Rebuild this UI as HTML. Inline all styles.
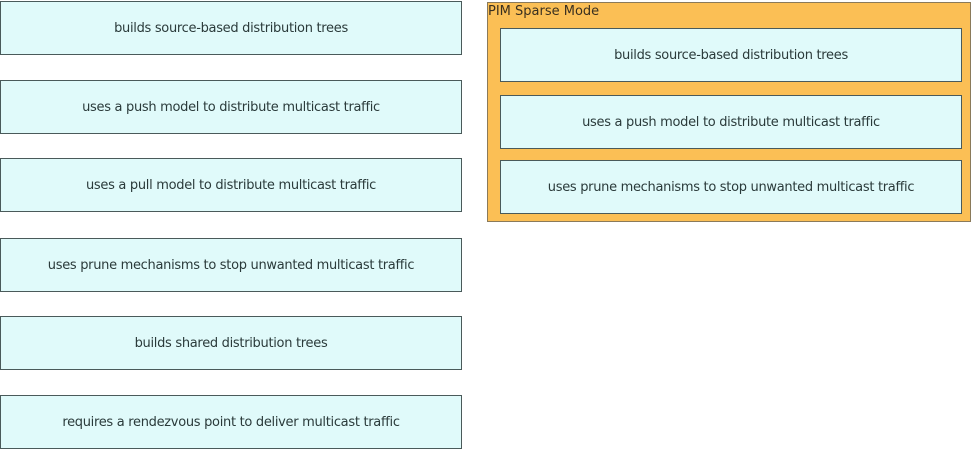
<!DOCTYPE html>
<html><head><style>
body{margin:0;width:973px;height:450px;background:#fff;position:relative;overflow:hidden;font-family:"DejaVu Sans","Liberation Sans",sans-serif;}
.b{position:absolute;box-sizing:border-box;background:#e0fafa;border:1px solid #4a5a5a;display:flex;align-items:center;justify-content:center;font-size:13px;color:#2a3a3a;letter-spacing:-0.3px;}
.o{position:absolute;left:487px;top:2px;width:484px;height:220px;box-sizing:border-box;background:#fbbf55;border:1px solid #8a7a5a;}
.t{position:absolute;left:488px;top:4px;font-size:13px;color:#3a3020;}
</style></head><body>
<div class="b" style="left:0;top:1px;width:462px;height:54px">builds source-based distribution trees</div>
<div class="b" style="left:0;top:80px;width:462px;height:54px">uses a push model to distribute multicast traffic</div>
<div class="b" style="left:0;top:158px;width:462px;height:54px">uses a pull model to distribute multicast traffic</div>
<div class="b" style="left:0;top:238px;width:462px;height:54px">uses prune mechanisms to stop unwanted multicast traffic</div>
<div class="b" style="left:0;top:316px;width:462px;height:54px">builds shared distribution trees</div>
<div class="b" style="left:0;top:395px;width:462px;height:54px">requires a rendezvous point to deliver multicast traffic</div>
<div class="o"></div>
<div class="t">PIM Sparse Mode</div>
<div class="b" style="left:500px;top:28px;width:462px;height:54px">builds source-based distribution trees</div>
<div class="b" style="left:500px;top:95px;width:462px;height:54px">uses a push model to distribute multicast traffic</div>
<div class="b" style="left:500px;top:160px;width:462px;height:54px">uses prune mechanisms to stop unwanted multicast traffic</div>
</body></html>
